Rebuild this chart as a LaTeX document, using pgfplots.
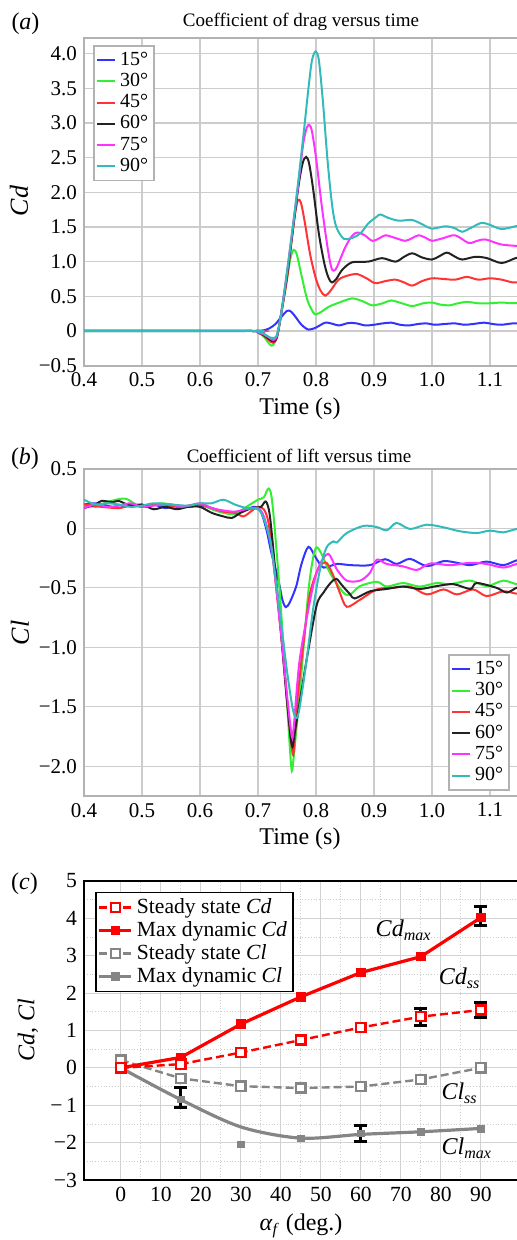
\documentclass[border=0pt]{standalone}
\usepackage{fontspec}
\setmainfont{Liberation Serif}
\usepackage{pgfplots}
\pgfplotsset{compat=1.18}

\definecolor{cblue}{HTML}{3333FF}
\definecolor{cgreen}{HTML}{33EE33}
\definecolor{cred}{HTML}{FF3333}
\definecolor{cblack}{HTML}{222222}
\definecolor{cmag}{HTML}{FF33FF}
\definecolor{ccyan}{HTML}{33BBBB}
\definecolor{pred}{HTML}{FF0000}
\definecolor{pgray}{HTML}{858585}

\pgfplotsset{
  timeax/.style={
    scale only axis, width=232pt, xmin=0.4, xmax=1.2,
    xtick={0.4,0.5,0.6,0.7,0.8,0.9,1.0,1.1},
    xticklabels={0.4,0.5,0.6,0.7,0.8,0.9,1.0,1.1},
    grid=major, major grid style={gray!40, line width=0.7pt},
    axis line style={gray!60, line width=1pt},
    tick style={draw=none},
    tick label style={font=\fontsize{10.5}{12}\selectfont},
    every axis plot/.append style={line width=1pt, mark=none, smooth},
    legend image code/.code={\draw[#1] (0pt,0pt) -- (9pt,0pt);},
    legend cell align=left,
  },
}

\begin{document}
\begin{tikzpicture}
\useasboundingbox (0,0) rectangle (258.5pt,620pt);
\clip (0,0) rectangle (258.5pt,620pt);

% ---------------- (a) ----------------
\begin{axis}[timeax, at={(42pt,437.15pt)}, anchor=south west,
  height=163.7pt, ymin=-0.5, ymax=4.22,
  ytick={-0.5,0,0.5,1,1.5,2,2.5,3,3.5,4},
  yticklabels={−0.5,0,0.5,1.0,1.5,2.0,2.5,3.0,3.5,4.0},
  legend style={at={(0.02,0.9795)}, anchor=north west, draw=gray!60, line width=0.8pt,
    font=\fontsize{10}{10}\selectfont, inner sep=1pt, row sep=-1.5pt}]
\addplot[cblue] coordinates {(0.40,0) (0.50,0) (0.60,0) (0.68,0) (0.70,0.005) (0.71,0.01) (0.72,0.04) (0.73,0.10) (0.74,0.20) (0.75,0.29) (0.757,0.28) (0.765,0.20) (0.775,0.09) (0.787,0.02) (0.80,0.05) (0.816,0.12) (0.83,0.10) (0.84,0.08) (0.856,0.115) (0.87,0.11) (0.885,0.08) (0.90,0.09) (0.915,0.11) (0.93,0.12) (0.945,0.09) (0.96,0.08) (0.975,0.10) (0.99,0.11) (1.005,0.09) (1.02,0.10) (1.04,0.11) (1.055,0.09) (1.07,0.10) (1.09,0.12) (1.105,0.10) (1.12,0.09) (1.14,0.11) (1.16,0.10)};
\addlegendentry{15°}
\addplot[cgreen] coordinates {(0.40,0) (0.60,0) (0.69,0) (0.70,-0.02) (0.71,-0.08) (0.718,-0.17) (0.723,-0.21) (0.728,-0.18) (0.735,0.0) (0.742,0.35) (0.75,0.75) (0.756,1.05) (0.7615,1.17) (0.767,1.10) (0.775,0.80) (0.785,0.45) (0.795,0.27) (0.80,0.24) (0.81,0.28) (0.822,0.35) (0.84,0.41) (0.862,0.47) (0.88,0.43) (0.897,0.37) (0.915,0.40) (0.93,0.44) (0.948,0.40) (0.966,0.36) (0.985,0.40) (1.0,0.41) (1.015,0.38) (1.03,0.37) (1.045,0.40) (1.06,0.42) (1.08,0.40) (1.1,0.40) (1.12,0.41) (1.14,0.40) (1.16,0.42)};
\addlegendentry{30°}
\addplot[cred] coordinates {(0.40,0) (0.69,0) (0.70,-0.02) (0.71,-0.07) (0.72,-0.14) (0.726,-0.17) (0.732,-0.10) (0.74,0.25) (0.75,0.75) (0.758,1.30) (0.764,1.70) (0.769,1.89) (0.774,1.85) (0.78,1.60) (0.79,1.10) (0.80,0.75) (0.808,0.58) (0.816,0.51) (0.825,0.58) (0.839,0.74) (0.855,0.80) (0.871,0.82) (0.887,0.76) (0.902,0.69) (0.92,0.72) (0.937,0.74) (0.952,0.70) (0.966,0.655) (0.983,0.72) (1.0,0.76) (1.02,0.75) (1.04,0.74) (1.06,0.78) (1.08,0.74) (1.1,0.76) (1.12,0.74) (1.14,0.70) (1.16,0.71)};
\addlegendentry{45°}
\addplot[cblack] coordinates {(0.40,0) (0.69,0) (0.70,-0.02) (0.71,-0.06) (0.72,-0.12) (0.727,-0.15) (0.733,-0.08) (0.74,0.25) (0.75,0.80) (0.76,1.45) (0.77,2.10) (0.777,2.42) (0.7828,2.51) (0.788,2.42) (0.795,2.05) (0.805,1.40) (0.815,0.95) (0.822,0.76) (0.8276,0.70) (0.835,0.75) (0.845,0.88) (0.862,0.99) (0.89,1.00) (0.914,1.05) (0.937,1.0) (0.952,1.07) (0.966,1.12) (0.983,1.06) (1.0,1.03) (1.013,1.08) (1.026,1.13) (1.04,1.07) (1.052,1.03) (1.075,1.07) (1.095,1.05) (1.12,0.98) (1.144,1.05) (1.16,1.07)};
\addlegendentry{60°}
\addplot[cmag] coordinates {(0.40,0) (0.69,0) (0.70,-0.02) (0.71,-0.05) (0.72,-0.10) (0.727,-0.13) (0.733,-0.06) (0.74,0.25) (0.75,0.85) (0.76,1.50) (0.77,2.15) (0.778,2.70) (0.784,2.93) (0.7885,2.97) (0.793,2.88) (0.80,2.50) (0.81,1.80) (0.82,1.20) (0.826,0.93) (0.830,0.87) (0.836,0.92) (0.85,1.20) (0.862,1.37) (0.871,1.42) (0.884,1.38) (0.897,1.30) (0.91,1.34) (0.92,1.38) (0.937,1.34) (0.954,1.30) (0.966,1.34) (0.977,1.38) (0.99,1.34) (1.0,1.30) (1.02,1.34) (1.04,1.38) (1.063,1.27) (1.078,1.30) (1.092,1.32) (1.118,1.25) (1.14,1.23) (1.16,1.22)};
\addlegendentry{75°}
\addplot[ccyan] coordinates {(0.40,0) (0.69,0) (0.70,-0.01) (0.71,-0.04) (0.72,-0.09) (0.727,-0.10) (0.733,-0.05) (0.74,0.25) (0.75,0.85) (0.76,1.50) (0.77,2.20) (0.78,2.95) (0.787,3.50) (0.793,3.90) (0.7994,4.03) (0.805,3.90) (0.812,3.30) (0.82,2.45) (0.828,1.80) (0.835,1.50) (0.848,1.33) (0.865,1.35) (0.878,1.42) (0.89,1.55) (0.905,1.65) (0.911,1.68) (0.925,1.63) (0.943,1.59) (0.966,1.60) (0.985,1.53) (1.0,1.475) (1.023,1.51) (1.04,1.48) (1.052,1.43) (1.07,1.50) (1.086,1.56) (1.10,1.53) (1.12,1.47) (1.144,1.51) (1.16,1.53)};
\addlegendentry{90°}
\end{axis}

% ---------------- (b) ----------------
\begin{axis}[timeax, at={(42pt,222pt)}, anchor=south west,
  height=163.6pt, ymin=-2.25, ymax=0.5,
  ytick={-2,-1.5,-1,-0.5,0,0.5},
  yticklabels={−2.0,−1.5,−1.0,−0.5,0,0.5},
  legend style={at={(0.785,0.0162)}, anchor=south west, draw=gray!60, line width=0.8pt,
    font=\fontsize{10}{10}\selectfont, inner sep=1pt, row sep=-1.5pt}]
\addplot[cblue] coordinates {(0.40,0.20) (0.42,0.21) (0.44,0.19) (0.46,0.17) (0.48,0.20) (0.50,0.18) (0.52,0.20) (0.54,0.17) (0.56,0.19) (0.58,0.18) (0.60,0.19) (0.62,0.17) (0.64,0.14) (0.66,0.13) (0.68,0.16) (0.695,0.18) (0.705,0.14) (0.715,-0.02) (0.723,-0.205) (0.735,-0.43) (0.742,-0.60) (0.748,-0.663) (0.755,-0.62) (0.766,-0.486) (0.775,-0.30) (0.787,-0.156) (0.80,-0.25) (0.813,-0.33) (0.836,-0.30) (0.86,-0.31) (0.893,-0.31) (0.919,-0.26) (0.939,-0.30) (0.962,-0.257) (0.991,-0.318) (1.02,-0.276) (1.043,-0.29) (1.066,-0.31) (1.094,-0.28) (1.123,-0.31) (1.146,-0.27) (1.16,-0.28)};
\addlegendentry{15°}
\addplot[cgreen] coordinates {(0.40,0.20) (0.42,0.18) (0.44,0.22) (0.47,0.25) (0.49,0.20) (0.51,0.18) (0.53,0.21) (0.55,0.20) (0.57,0.18) (0.60,0.20) (0.62,0.16) (0.64,0.13) (0.66,0.12) (0.68,0.18) (0.70,0.24) (0.71,0.26) (0.7185,0.334) (0.725,0.20) (0.7376,-0.54) (0.749,-1.385) (0.755,-1.85) (0.7584,-2.04) (0.762,-1.90) (0.772,-1.385) (0.7867,-0.54) (0.795,-0.25) (0.801,-0.16) (0.81,-0.22) (0.824,-0.374) (0.847,-0.54) (0.859,-0.556) (0.876,-0.486) (0.905,-0.45) (0.922,-0.49) (0.95,-0.46) (0.979,-0.49) (1.008,-0.46) (1.031,-0.47) (1.066,-0.44) (1.094,-0.486) (1.123,-0.44) (1.146,-0.47) (1.16,-0.46)};
\addlegendentry{30°}
\addplot[cred] coordinates {(0.40,0.20) (0.43,0.18) (0.46,0.17) (0.48,0.19) (0.50,0.19) (0.53,0.20) (0.56,0.18) (0.58,0.19) (0.60,0.20) (0.62,0.17) (0.64,0.14) (0.66,0.13) (0.675,0.10) (0.69,0.15) (0.70,0.18) (0.71,0.16) (0.718,0.05) (0.726,-0.26) (0.74,-0.9) (0.75,-1.45) (0.7595,-1.89) (0.763,-1.80) (0.769,-1.385) (0.78,-0.90) (0.79,-0.54) (0.805,-0.33) (0.818,-0.29) (0.83,-0.40) (0.841,-0.54) (0.853,-0.66) (0.876,-0.60) (0.905,-0.514) (0.933,-0.50) (0.962,-0.49) (0.991,-0.556) (1.02,-0.514) (1.043,-0.556) (1.071,-0.514) (1.094,-0.57) (1.123,-0.53) (1.146,-0.55) (1.16,-0.55)};
\addlegendentry{45°}
\addplot[cblack] coordinates {(0.40,0.17) (0.42,0.20) (0.43,0.23) (0.45,0.22) (0.46,0.23) (0.48,0.19) (0.50,0.20) (0.52,0.16) (0.54,0.18) (0.56,0.16) (0.58,0.18) (0.60,0.18) (0.62,0.13) (0.64,0.10) (0.655,0.087) (0.67,0.13) (0.69,0.17) (0.705,0.18) (0.7133,0.225) (0.72,0.12) (0.728,-0.26) (0.74,-0.9) (0.75,-1.45) (0.7584,-1.83) (0.764,-1.70) (0.784,-1.10) (0.801,-0.65) (0.813,-0.54) (0.825,-0.46) (0.835,-0.425) (0.845,-0.48) (0.859,-0.556) (0.867,-0.59) (0.893,-0.53) (0.922,-0.51) (0.95,-0.49) (0.979,-0.51) (1.008,-0.486) (1.037,-0.47) (1.066,-0.51) (1.077,-0.46) (1.111,-0.5) (1.129,-0.54) (1.146,-0.5) (1.16,-0.49)};
\addlegendentry{60°}
\addplot[cmag] coordinates {(0.40,0.17) (0.42,0.20) (0.44,0.18) (0.46,0.19) (0.48,0.21) (0.50,0.18) (0.52,0.19) (0.55,0.20) (0.57,0.18) (0.60,0.21) (0.62,0.17) (0.64,0.15) (0.66,0.14) (0.68,0.16) (0.70,0.17) (0.71,0.10) (0.72,-0.08) (0.726,-0.26) (0.74,-0.9) (0.75,-1.40) (0.7584,-1.75) (0.762,-1.65) (0.772,-1.10) (0.7925,-0.54) (0.805,-0.32) (0.821,-0.215) (0.836,-0.346) (0.853,-0.44) (0.876,-0.44) (0.893,-0.374) (0.905,-0.263) (0.922,-0.30) (0.95,-0.32) (0.974,-0.35) (0.997,-0.296) (1.031,-0.31) (1.066,-0.29) (1.094,-0.30) (1.123,-0.33) (1.146,-0.30) (1.16,-0.29)};
\addlegendentry{75°}
\addplot[ccyan] coordinates {(0.40,0.24) (0.42,0.20) (0.44,0.21) (0.46,0.20) (0.48,0.18) (0.50,0.19) (0.52,0.21) (0.55,0.20) (0.58,0.19) (0.60,0.21) (0.62,0.21) (0.64,0.24) (0.66,0.20) (0.68,0.17) (0.70,0.16) (0.71,0.08) (0.72,-0.08) (0.726,-0.26) (0.74,-0.8) (0.75,-1.20) (0.76,-1.52) (0.7665,-1.595) (0.772,-1.50) (0.784,-1.10) (0.795,-0.68) (0.807,-0.345) (0.818,-0.163) (0.83,-0.11) (0.836,-0.12) (0.853,-0.04) (0.882,0.02) (0.905,0.01) (0.922,-0.017) (0.939,0.045) (0.962,-0.006) (0.991,0.03) (1.02,0.008) (1.048,-0.025) (1.077,-0.04) (1.1,-0.02) (1.123,-0.034) (1.146,-0.006) (1.16,-0.01)};
\addlegendentry{90°}
\end{axis}

% ---------------- (c) ----------------
\begin{axis}[at={(42pt,30pt)}, anchor=south west, scale only axis,
  width=228.4pt, height=149.5pt, xmin=-9.2, xmax=105, ymin=-3, ymax=5,
  xtick={0,10,20,30,40,50,60,70,80,90},
  xticklabels={0,10,20,30,40,50,60,70,80,90},
  ytick={-3,-2,-1,0,1,2,3,4,5},
  yticklabels={−3,−2,−\,1,0,1,2,3,4,5},
  minor x tick num=1, minor y tick num=1,
  grid=both, major grid style={gray!35, line width=0.5pt},
  minor grid style={gray!40, densely dotted, line width=0.4pt},
  axis line style={black, line width=1pt},
  tick style={draw=none},
  tick label style={font=\fontsize{10.8}{12}\selectfont},
  legend style={at={(0.024,0.964)}, anchor=north west, draw=black, line width=0.8pt,
    font=\fontsize{10.8}{11}\selectfont, inner sep=1pt, row sep=-1.5pt},
  legend cell align=left,
  legend image code/.code={\draw[mark repeat=2,mark phase=2,#1] plot coordinates {(0pt,0pt) (8pt,0pt) (16pt,0pt)};}]
\addlegendimage{pred, line width=1.2pt, dash pattern=on 4pt off 2pt, mark=square*, mark options={solid, fill=white, line width=1.2pt}, mark size=2.3pt}
\addlegendentry{Steady state \textit{Cd}}
\addlegendimage{pred, line width=1.6pt, mark=square*, mark size=1.6pt}
\addlegendentry{Max dynamic \textit{Cd}}
\addlegendimage{pgray, line width=1.2pt, dash pattern=on 4pt off 2pt, mark=square*, mark options={solid, fill=white, line width=1.2pt}, mark size=2.3pt}
\addlegendentry{Steady state \textit{Cl}}
\addlegendimage{pgray, line width=1.6pt, mark=square*, mark size=1.6pt}
\addlegendentry{Max dynamic \textit{Cl}}

\addplot[pgray, line width=1.6pt, smooth, forget plot] coordinates {(0,0) (15,-0.85) (30,-1.58) (45,-1.88) (60,-1.78) (75,-1.71) (90,-1.62)};
\addplot[pgray, only marks, mark=square*, mark size=1.6pt, forget plot] coordinates {(0,0) (15,-0.85) (30,-2.04) (45,-1.88) (60,-1.76) (75,-1.71) (90,-1.63)};
\addplot[pgray, line width=1.2pt, dash pattern=on 4pt off 2pt, mark=square*, mark options={solid, fill=white, line width=1.2pt}, mark size=2.3pt, forget plot] coordinates {(0,0.21) (15,-0.28) (30,-0.49) (45,-0.54) (60,-0.50) (75,-0.31) (90,0)};
\addplot[pred, line width=1.6pt, mark=square*, mark size=1.6pt, forget plot] coordinates {(0,0) (15,0.28) (30,1.17) (45,1.90) (60,2.55) (75,2.975) (90,4.02)};
\addplot[pred, line width=1.2pt, dash pattern=on 4pt off 2pt, mark=square*, mark options={solid, fill=white, line width=1.2pt}, mark size=2.3pt, forget plot] coordinates {(0,0) (15,0.10) (30,0.41) (45,0.745) (60,1.08) (75,1.37) (90,1.55)};
\addplot[draw=none, mark=none, line width=1.5pt, forget plot,
  error bars/.cd, y dir=both, y explicit,
  error bar style={draw=black, solid, line width=1.5pt},
  error mark options={rotate=90, draw=black, solid, mark size=3.3pt, line width=1.5pt}]
  coordinates {(90,4.065) +- (0,0.245) (75,1.36) +- (0,0.22) (90,1.545) +- (0,0.2) (15,-0.80) +- (0,0.27) (60,-1.76) +- (0,0.22)};

\node[font=\fontsize{12}{14}\selectfont] at (axis cs:70.7,3.69) {\textit{Cd}\textsubscript{\textit{max}}};
\node[font=\fontsize{12}{14}\selectfont] at (axis cs:84.7,2.4) {\textit{Cd}\textsubscript{\textit{ss}}};
\node[font=\fontsize{12}{14}\selectfont] at (axis cs:84.7,-0.68) {\textit{Cl}\textsubscript{\textit{ss}}};
\node[font=\fontsize{12}{14}\selectfont] at (axis cs:86.5,-2.15) {\textit{Cl}\textsubscript{\textit{max}}};
\end{axis}

% ---------------- labels ----------------
\node[font=\fontsize{12}{14}\selectfont] at (12.75pt,608.3pt) {(\textit{a})};
\node[font=\fontsize{9.5}{11}\selectfont] at (150.5pt,609.2pt) {Coefficient of drag versus time};
\node[font=\fontsize{12}{14}\selectfont] at (150pt,415.5pt) {Time (s)};
\node[font=\fontsize{13}{14}\selectfont, rotate=90] at (9.5pt,519.5pt) {\textit{Cd}};

\node[font=\fontsize{12}{14}\selectfont] at (12.5pt,390.5pt) {(\textit{b})};
\node[font=\fontsize{9.5}{11}\selectfont] at (149.5pt,392pt) {Coefficient of lift versus time};
\node[font=\fontsize{12}{14}\selectfont] at (150pt,200.5pt) {Time (s)};
\node[font=\fontsize{13}{14}\selectfont, rotate=90] at (10pt,303.5pt) {\textit{Cl}};

\node[font=\fontsize{12}{14}\selectfont] at (12.25pt,178pt) {(\textit{c})};
\node[font=\fontsize{12}{14}\selectfont] at (150.5pt,7pt) {\textit{α}\textsubscript{\textit{f}} (deg.)};
\node[font=\fontsize{12}{14}\selectfont, rotate=90] at (14pt,105pt) {\textit{Cd}, \textit{Cl}};
\end{tikzpicture}
\end{document}
